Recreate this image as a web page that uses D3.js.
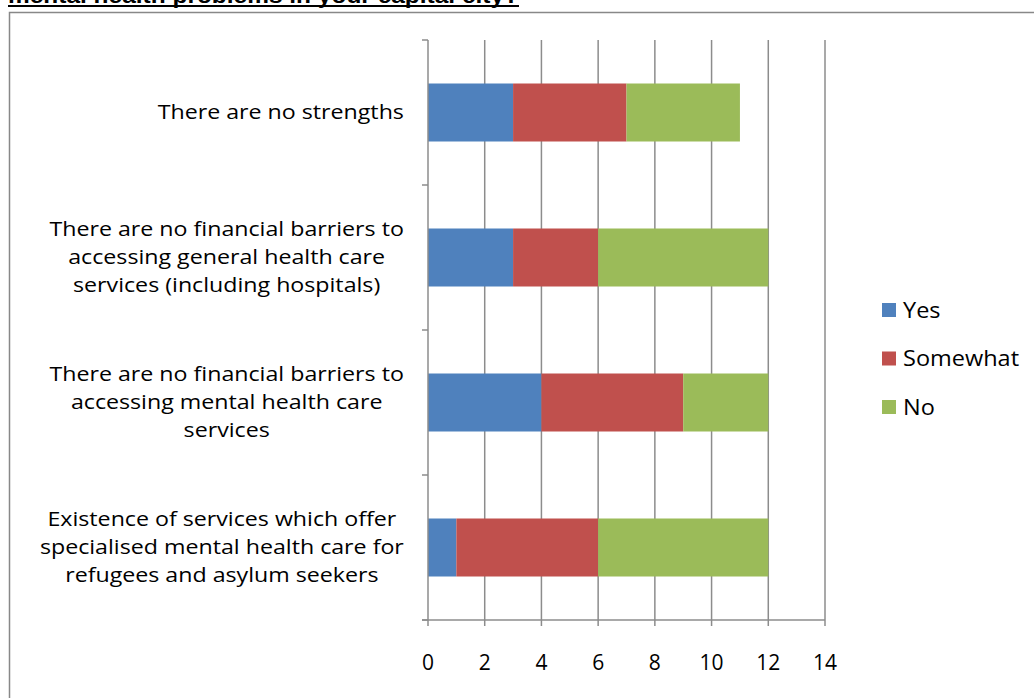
<!DOCTYPE html>
<html><head><meta charset="utf-8">
<script src="https://cdn.jsdelivr.net/npm/d3@7"></script>
<style>body{margin:0;background:#fff;} svg{display:block;font-family:"Open Sans", sans-serif;}</style>
</head><body>
<svg id="c" width="1034" height="698"></svg>
<script>
const categories = [
  ["There are no strengths"],
  ["There are no financial barriers to","accessing general health care","services (including hospitals)"],
  ["There are no financial barriers to","accessing mental health care","services"],
  ["Existence of services which offer","specialised mental health care for","refugees and asylum seekers"]
];
const seriesNames = ["Yes","Somewhat","No"];
const yesVals = [3,3,4,1];
const somewhatVals = [4,3,5,5];
const noVals = [4,6,3,6];
const xTicks = [0,2,4,6,8,10,12,14];
const colors = ["#4F81BD","#C0504D","#9BBB59"];
const titleText = "mental health problems in your capital city?";

(function(){
const svg = d3.select("#c");
const title = svg.append("text").attr("x",8).attr("y",3).attr("font-size",22).attr("font-weight","bold")
  .style("font-family","'Liberation Sans', Arial, sans-serif").attr("fill","#000")
  .attr("textLength",511).attr("lengthAdjust","spacingAndGlyphs").text(titleText);
svg.append("line").attr("x1",8).attr("x2",519).attr("y1",6).attr("y2",6).attr("stroke","#000").attr("stroke-width",2);
svg.append("path").attr("d","M9.5,698 V12.5 H1034").attr("fill","none").attr("stroke","#888").attr("stroke-width",1.5);

const pL=428, pR=825, pT=40, pB=620;
const x = d3.scaleLinear().domain([0,14]).range([pL,pR]);
const y = d3.scaleBand().domain(d3.range(categories.length)).range([pT,pB]).paddingInner(0.6).paddingOuter(0.3);
const yb = d3.scaleBand().domain(d3.range(categories.length)).range([pT,pB]);

svg.append("g").selectAll("line").data(xTicks.slice(1)).join("line")
  .attr("x1",d=>x(d)).attr("x2",d=>x(d)).attr("y1",pT).attr("y2",pB+6)
  .attr("stroke","#8c8c8c").attr("stroke-width",1.5);

const data = categories.map((c,i)=>({i, Yes:yesVals[i], Somewhat:somewhatVals[i], No:noVals[i]}));
const stack = d3.stack().keys(seriesNames)(data);
svg.append("g").selectAll("g").data(stack).join("g").attr("fill",(d,k)=>colors[k])
  .selectAll("rect").data(d=>d).join("rect")
  .attr("x",d=>x(d[0])).attr("width",d=>x(d[1])-x(d[0]))
  .attr("y",d=>y(d.data.i)).attr("height",y.bandwidth());

svg.append("line").attr("x1",pL).attr("x2",pL).attr("y1",pT).attr("y2",pB+6).attr("stroke","#8c8c8c").attr("stroke-width",1.5);
const sep = d3.range(categories.length+1).map(i=> i<categories.length? yb(i): pB);
svg.append("g").selectAll("line").data(sep).join("line")
  .attr("x1",pL-6).attr("x2",pL).attr("y1",d=>d).attr("y2",d=>d).attr("stroke","#8c8c8c").attr("stroke-width",1.5);
svg.append("line").attr("x1",pL-6).attr("x2",pR).attr("y1",pB).attr("y2",pB).attr("stroke","#8c8c8c").attr("stroke-width",1.5);
svg.append("g").selectAll("text").data(xTicks).join("text")
  .attr("x",d=>x(d)).attr("y",670).attr("text-anchor","middle").attr("font-size",21).attr("fill","#000").text(d=>d);

const sx = 1.16;
categories.forEach((lines,i)=>{
  const cy = yb(i)+yb.bandwidth()/2;
  const lh = 28;
  const g = svg.append("g");
  const t = g.append("text").attr("text-anchor","middle").attr("font-size",20).attr("fill","#000");
  const spans = lines.map((ln,j)=> t.append("tspan").attr("x",0).attr("y", cy + (j-(lines.length-1)/2)*lh + 7).text(ln));
  const maxW = d3.max(spans, s=>s.node().getComputedTextLength()) * sx;
  g.attr("transform", `translate(${404 - maxW/2},0) scale(${sx},1)`);
});

const lsx = 1.12;
seriesNames.forEach((s,k)=>{
  const cy = 310 + k*48.5;
  svg.append("rect").attr("x",882).attr("y",cy-7).attr("width",14).attr("height",14).attr("fill",colors[k]);
  svg.append("text").attr("transform",`translate(903,0) scale(${lsx},1)`).attr("x",0).attr("y",cy+8).attr("font-size",21).attr("fill","#000").text(s);
});
})();
</script>
</body></html>
